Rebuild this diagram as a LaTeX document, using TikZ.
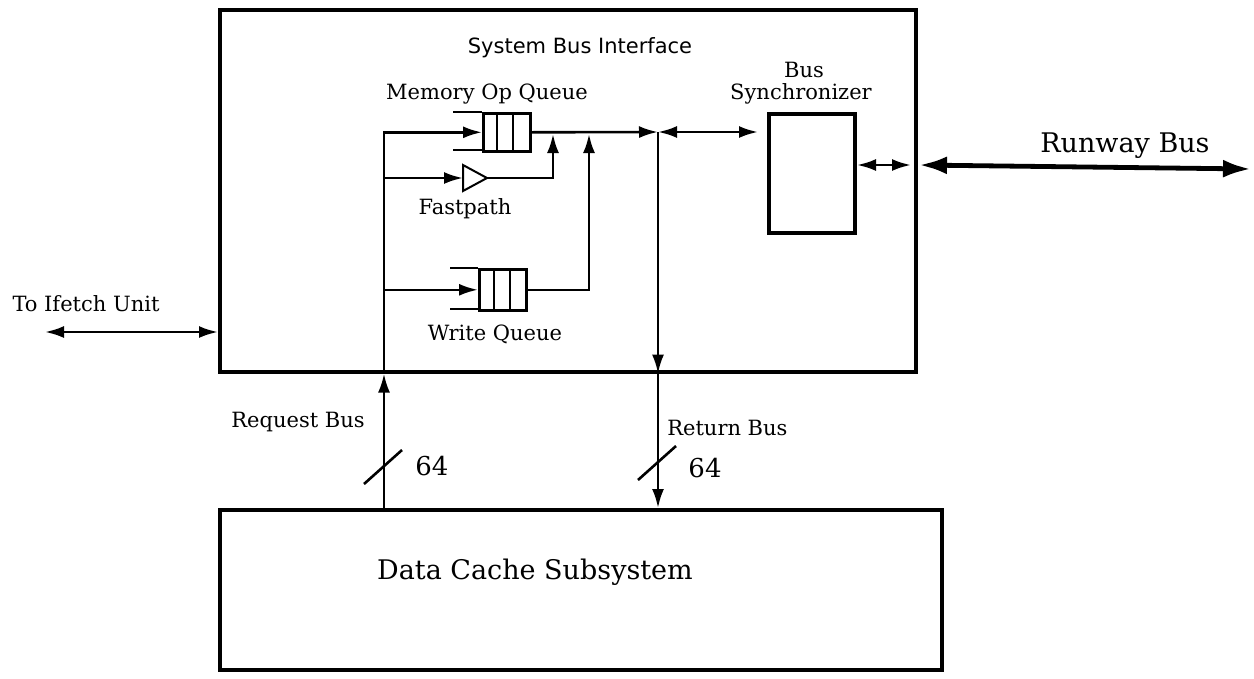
\documentclass[tikz,border=0pt]{standalone}
\usepackage{fontspec}
\setmainfont{DejaVu Serif}
\setsansfont{DejaVu Sans}
\usetikzlibrary{arrows.meta}
\begin{document}
\begin{tikzpicture}[x=1pt,y=-1pt, line width=2.6pt, line cap=butt,
  >={Latex[length=19pt,width=12pt]},
  box/.style={draw, inner sep=0pt, anchor=north west},
  lbl/.style={font=\fontsize{21}{24}\selectfont, inner sep=0pt},
  numlbl/.style={font=\fontsize{26}{30}\selectfont, inner sep=0pt},
  biglbl/.style={font=\fontsize{27}{32}\selectfont, inner sep=0pt},
  bigtip/.style={{Latex[length=28pt,width=18pt]}-{Latex[length=28pt,width=18pt]}}]
\useasboundingbox (0,0) rectangle (1254,678);
% main boxes
\node[box, line width=3.6pt, minimum width=696pt, minimum height=362pt] (sbi) at (218,8) {};
\node[box, line width=3.6pt, minimum width=722pt, minimum height=160pt] (dc) at (218,508) {};
\node[box, line width=4pt, minimum width=86pt, minimum height=119pt] (sync) at (767,112) {};
% memory op queue
\draw (453,112) -- (482,112) (453,150) -- (482,150);
\node[box, line width=2.6pt, minimum width=47pt, minimum height=38pt] (mq) at (482,112) {};
\draw (497,112) -- (497,150) (513,112) -- (513,150);
% write queue
\draw (450,268) -- (478,268) (450,309) -- (478,309);
\node[box, line width=2.6pt, minimum width=47pt, minimum height=41pt] (wq) at (478,268) {};
\draw (494,268) -- (494,309) (510,268) -- (510,309);
% fastpath triangle
\coordinate (fpw) at (463,178);
\coordinate (fpe) at (487,178);
\draw[line width=2pt, line join=miter] (463,165) -- (fpe) -- (463,191) -- cycle;
% junction and other coordinates
\coordinate (J) at (658,132);
\coordinate (reqx) at (384,0);
\coordinate (retx) at (658,0);
% texts
\node[font=\sffamily\fontsize{21}{24}\selectfont, inner sep=0pt] (t1) at (580,48) {System Bus Interface};
\node[lbl] (t2) at (487,94) {Memory Op Queue};
\node[lbl] (t3) at (465,209) {Fastpath};
\node[lbl] (t4) at (495,334) {Write Queue};
\node[lbl] (t5) at (804,70) {Bus};
\node[lbl] (t6) at (801,94) {Synchronizer};
\node[lbl] (t7) at (86,304) {To Ifetch Unit};
\node[lbl] (t8) at (298,422) {Request Bus};
\node[lbl, anchor=west] (t9) at (666,428) {Return Bus};
\node[numlbl] (n1) at (432,466) {64};
\node[numlbl] (n2) at (705,468) {64};
\node[biglbl] (t10) at (535,572) {Data Cache Subsystem};
\node[biglbl] (t11) at (1125,146) {Runway Bus};
% connectors
\draw[->] (dc.north -| reqx) -- (sbi.south -| reqx);
\draw[->] (sbi.south -| reqx) |- (mq.west);
\draw[->] (reqx |- fpw) -- (fpw);
\draw[->] (reqx |- wq.west) -- (wq.west);
\draw[->] (fpe) -| (553,134);
\draw[->] (wq.east) -| (589,134);
\draw[->] (mq.east) -- (J);
\draw[<->] (J) -- (758,132);
\draw[->] (J) -- (sbi.south -| retx);
\draw[->] (sbi.south -| retx) -- (dc.north -| retx);
\draw[<->] (sync.east |- 0,165) -- (911,165);
\draw[bigtip, line width=4.8pt] (919,165) -- (1251,169);
\draw[<->] (45,332) -- (sbi.west |- 0,332);
% bus width slashes
\draw (364,484) -- (402,450);
\draw (638,480) -- (676,446);
\end{tikzpicture}
\end{document}
